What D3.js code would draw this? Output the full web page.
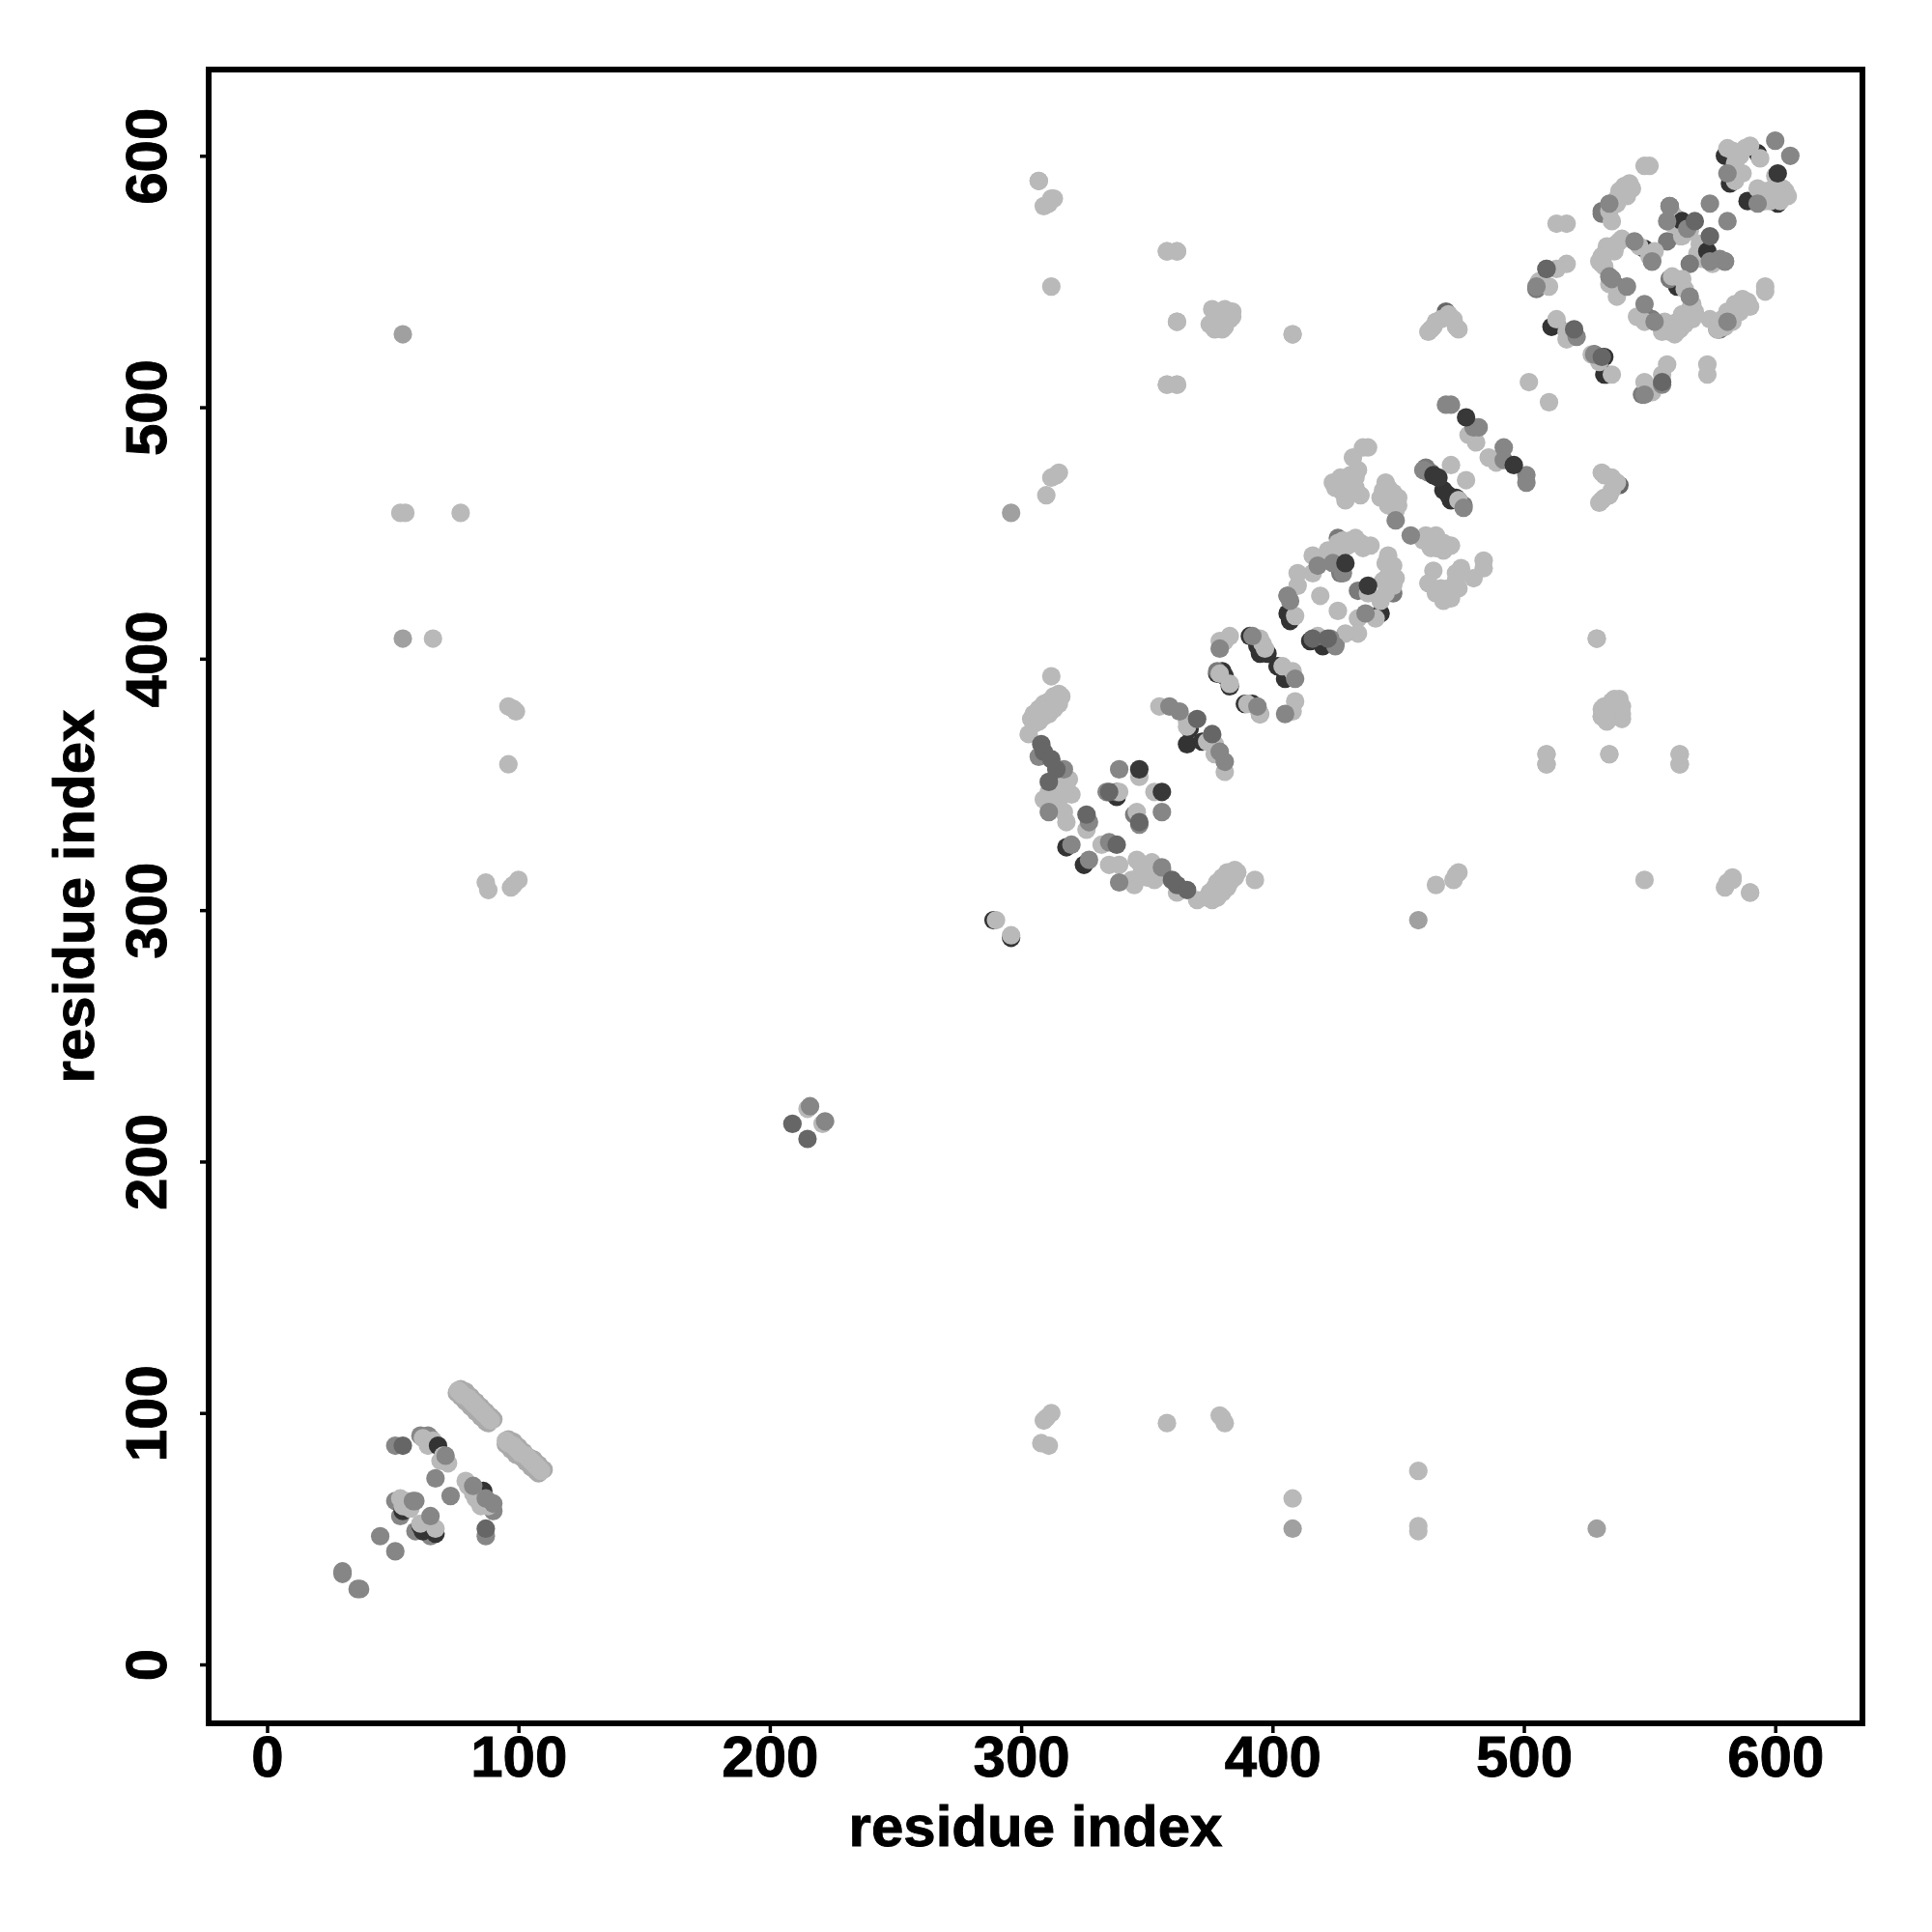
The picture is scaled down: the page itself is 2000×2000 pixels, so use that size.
<!DOCTYPE html>
<html><head><meta charset="utf-8">
<script src="https://cdn.jsdelivr.net/npm/d3@7/dist/d3.min.js"></script>
<style>html,body{margin:0;padding:0;background:#fff}</style></head>
<body><div id="chart"></div>
<script>
const tickValues=[0,100,200,300,400,500,600];
const axisTitle="residue index";
const shades={darkUnder:"#333333",midUnder:"#7a7a7a",light:"#b9b9b9",lightBack:"#aaaaaa",paleMid:"#a0a0a0",mid:"#868686",darkMid:"#666666",darkTop:"#383838"};

// contacts observed on one side of the diagonal; the map is symmetric
const mirroredLight=[[53,458],[55,458],[77,458],[66,408],[96,381],[98,380],[99,379],[96,358],[87,311],[88,308],[97,309],[100,312],[98,310],[307,590],[309,580],[311,581],[312,583],[313,583],[312,548],[358,562],[362,562],[362,534],[358,509],[362,509],[376,539],[378,537],[380,533],[383,535],[377,531],[380,531],[384,538],[379,535],[381,532],[382,537],[378,533],[375,533],[381,539],[384,536],[408,529],[310,465],[312,472],[314,473],[315,474],[463,531],[464,532],[465,534],[467,535],[470,537],[473,532],[474,531],[472,535],[462,530],[529,408],[509,362],[534,362],[562,362],[509,358],[562,358],[590,307]];
const mirroredPale=[[54,529],[54,408],[296,458]];
const mirroredDarkMid=[[469,538]];

const baseMid=[[36,30],[30,36],[59,53],[65,51],[51,65],[53,59],[61,91],[64,91],[65,90],[81,71],[84,68],[90,61],[307,361]];
const baseLight=[[62,90],[64,87],[66,89],[79,73],[82,70],[84,68],[53,66],[55,65],[88,65],[215,221],[221,215],[347,353],[353,347],[559,577],[561,575],[563,572],[562,568],[564,571],[559,573],[566,570],[569,561],[571,559],[575,557],[573,560],[570,565]];
const darkUnder=[[78,106],[81,104],[87,98],[97,87],[106,80],[104,81],
[68,87],[86,69],[54,61],[55,62],[61,55],[62,53],[67,52],[289,296],[296,289],
[318,325],[325,318],[338,345],[352,316],[366,366],[372,367],[367,372],[378,394],[380,395],[391,409],[395,402],[402,397],[405,392],[381,393],[383,389],[389,382],[392,382],
[394,405],[398,402],[404,396],[415,407],[406,418],[407,415],[420,405],[443,418],[470,465],[471,463],[468,467],[473,464],
[511,532],[528,521],[532,513],[548,537],[561,548],[548,563],[573,562],[563,574],[537,548],[580,600],[582,589],[589,582],[593,601],[601,581],[533,513],[513,533],[532,520]];
const midUnder=[[338,347],[356,316],[345,338],[378,395],[395,378],[406,425],[425,406],[434,427],[427,434],[448,426],[426,448],[461,476],[463,474],[476,461],[474,463],[531,578],[531,577],[578,531],[577,531],[505,547],[547,505],[551,558],[558,551],[535,551],[551,535],[558,580],[580,558],[566,557],[557,566]];
const lightsBack=[[77,109.5],[79,108.5],[81,106.5],[83,104.5],[85,102.5],[87,100.5],[89,98.5],[90,97.5],[75.5,108],[77,106.5],[79,104.5],[81,102.5],[83,100.5],[85,98.5],[87,96.5],[88,96],
[96,89.5],[98,88.5],[100,86.5],[102,84.5],[104,82.5],[106,81.5],[108,79.5],[110,77.5],[95,87.5],[97,85.5],[99,83.5],[101,82.5],[103,80.5],[105,78.5],[107,77],[108,76]];
const lights=[[70,83],[72,80],[69,81],[83,66],[56,63],[54,63],[57,62],[61,56],[67,54],[80,71],[82,68],[84,65],[85,63],[88,63],[290,296],[296,290],
[76,109],[77,108],[78,107],[80,106],[81,105],[82,104],[83,103],[84,102],[85,101],[86,100],[87,99],[88,98],[89,97],
[95,89],[96,88],[98,87],[99,86],[100,85],[101,84],[103,83],[104,82],[105,81],[106,80],[107,79],[108,78],[109,77],
[312,393],[303,370],[304,376],[306,377],[308,379],[310,380],[312,381],[313,383],[315,384],[314,383],
[305,378],[307,380],[309,382],[311,383],[313,385],[315,386],[316,385],[305,374],[307,375],[309,377],[311,378],[313,380],[315,382],
[378,305],[380,307],[382,309],[383,311],[385,313],[386,315],[385,316],[374,305],[375,307],[377,309],[378,311],[380,313],[382,315],
[309,344],[311,347],[318,348],[318,351],[315,349],[312,348],[315,344],[313,350],[320,346],[319,352],[316,347],[344,312],[348,315],[350,313],[346,320],[352,319],
[317,339],[318,335],[326,332],[332,326],[335,318],[339,318],[345,310],[347,313],[347,319],[350,317],[353,312],[362,307],[370,304],[376,304],[377,306],[378,308],[380,310],[381,312],[382,314],[384,315],[375,305],[376,307],[393,312],[339,347],[346,339],[355,381],[366,375],[366,373],[374,367],[377,366],[377,362],[381,355],
[379,407],[381,407],[383,409],[395,408],[397,404],[396,406],[404,397],[408,395],[409,383],[408,379],[379,394],[383,390],[395,378],[390,382],
[409,417],[410,434],[416,434],[410,429],[416,441],[419,440],[422,443],[428,447],[426,446],[431,447],[435,446],[439,445],[430,445],[433,448],[436,444],[425,443],[419,425],[426,419],[438,426],[445,438],[447,435],[448,429],[444,431],[443,423],[449,432],[448,437],[446,433],[445,426],[446,441],[441,416],[434,416],[434,410],[429,410],[418,409],
[438,484],[436,484],[432,480],[434,475],[431,473],[427,472],[424,470],[425,468],[429,463],[435,465],[433,472],[427,469],[430,470],[433,468],[428,466],
[445,470],[444,467],[446,465],[448,463],[450,461],[446,468],[448,466],[450,464],[443,464],[446,461],[449,459],[461,449],[463,447],[465,444],[468,443],[471,445],[460,447],[463,444],[466,446],[468,446],[465,449],[462,446],
[484,439],[484,436],[480,432],[473,434],[473,431],[472,427],[470,424],[468,425],[465,426],[464,435],[462,430],[467,428],[470,428],[474,428],[468,423],[471,424],[475,436],[471,477],[477,471],[474,463],[478,489],[481,486],[486,480],[489,478],
[588,603],[583,602],[594,599],[600,592],[587,593],[584,590],[593,587],[604,586],[602,582],[598,582],[600,585],[600,588],[590,604],[586,600],[584,597],[581,603],[597,586],[596,582],[605,584],[603,587],[601,586],
[563,568],[548,596],[550,596],[542,589],[539,585],[537,583],[535,580],[535,574],[540,588],[538,586],[536,581],[534,578],[543,587],[541,584],[537,581],
[538,566],[535,564],[532,561],[531,557],[537,565],[533,564],[531,560],[534,562],[536,562],[539,567],[530,558],[532,556],[552,562],[550,560],[546,564],[537,544],[534,549],[559,552],[563,551],[564,547],[545,536],[548,534],[558,532],[561,534],[565,536],[566,539],[556,534],[555,532],[563,537],[558,530],[562,531],[566,535],[567,541],[555,530],[560,529],[564,533],[568,538],[567,535],
[596,548],[596,546],[589,542],[586,540],[582,537],[577,531],[574,535],[579,535],[587,543],[584,541],[581,538],[578,534],[590,540],[586,538],[583,534],[580,532],[513,535],[517,530],[517,527],[527,521],[535,513],[530,518],[517,557],[513,555],[510,548],[506,550],[513,573],[517,573],[557,517],[555,513],[548,510],[551,506],[573,517],[573,513],[502,510],[510,502],
[531,377],[533,378],[535,379],[538,378],[537,383],[539,378]];
const midTop=[[37,30],[30,37],[51,45],[45,51],[87,51],[65,59],[58,65],[59,65],[73,67],[67,74],[51,87],[71,83],[82,71],[87,66],[90,64],[216,222],[222,216],
[317,356],[311,339],[327,335],[320,326],[335,327],[327,320],[339,311],[356,317],[339,356],[334,347],[356,339],[347,334],[359,381],[363,379],[379,363],[381,359],
[409,392],[405,378],[379,404],[392,409],[394,381],
[406,425],[407,423],[418,437],[424,438],[428,434],[437,418],[425,405],[423,408],
[449,455],[455,449],[460,475],[462,474],[476,460],[469,501],[471,501],[480,492],[482,492],[492,484],[492,479],[501,473],[501,470],
[600,606],[606,600],[574,581],[581,574],[558,580],[557,574],[565,571],[580,558],[578,559],[574,558],[544,566],[551,558],[535,551],[566,544],[548,541],[552,534],[541,548],[534,552],[521,528],[528,521],[581,593],[593,581],[581,534],[534,581],[548,505],[505,548],[509,555],[555,509]];
const darkMidTop=[[54,87],[87,54],[209,215],[215,209],[308,366],[309,363],[312,360],[314,356],[311,351],[326,338],[338,326],[360,312],[362,310],[366,308],[347,335],[335,347],[370,376],[376,370],[416,408],[422,408],[568,574],[574,568],[520,531],[531,520],[509,555],[555,510]];
const darkTop=[[347,356],[356,347],[429,438],[438,429],[464,473],[466,472],[477,496],[496,477],[601,593]];

const layers=[
 {pts:baseMid,fill:shades.mid},
 {pts:baseLight,fill:shades.light},
 {pts:darkUnder,fill:shades.darkUnder},
 {pts:midUnder,fill:shades.midUnder},
 {pts:mirroredPale,fill:shades.paleMid,mirror:true},
 {pts:mirroredDarkMid,fill:shades.darkMid,mirror:true},
 {pts:lightsBack,fill:shades.lightBack},
 {pts:lights,fill:shades.light},
 {pts:mirroredLight,fill:shades.light,mirror:true},
 {pts:midTop,fill:shades.mid},
 {pts:darkMidTop,fill:shades.darkMid},
 {pts:darkTop,fill:shades.darkTop}
];

const W=2000,H=2000,L=216,R=1928,T=72,B=1784;
const x=d3.scaleLinear().domain([-23.25,634.7]).range([L,R]);
const y=d3.scaleLinear().domain([-23.43,634.3]).range([B,T]);
const svg=d3.select("#chart").append("svg").attr("width",W).attr("height",H).style("display","block");
const font="'Liberation Sans',Arial,sans-serif";
svg.append("rect").attr("width",W).attr("height",H).attr("fill","#fff");

const marks=svg.append("g");
layers.forEach(l=>{
  const all=l.mirror?l.pts.concat(l.pts.map(d=>[d[1],d[0]])):l.pts;
  marks.append("g").selectAll("circle").data(all).join("circle")
    .attr("cx",d=>x(d[0])).attr("cy",d=>y(d[1])).attr("r",9.6).attr("fill",l.fill);
});

const ax=svg.append("g").attr("transform",`translate(0,${B})`)
  .call(d3.axisBottom(x).tickValues(tickValues).tickFormat(d3.format("d")).tickSize(10).tickSizeOuter(0));
const ay=svg.append("g").attr("transform",`translate(${L},0)`)
  .call(d3.axisLeft(y).tickValues(tickValues).tickFormat(d3.format("d")).tickSize(9).tickSizeOuter(0));
[ax,ay].forEach(g=>{
  g.select(".domain").remove();
  g.selectAll("line").attr("stroke","#000").attr("stroke-width",3.5);
  g.selectAll("text").attr("fill","#000").attr("stroke","#000").attr("stroke-width",0.9)
    .style("font-family",font).style("font-weight","bold").style("font-size","60px");
});
ax.selectAll("text").attr("y",0).attr("dy",0).attr("transform","translate(0,54.5)");
ay.selectAll("text").attr("x",0).attr("dy",0).style("text-anchor","middle")
  .attr("transform","translate(-44.5,0) rotate(-90)");

svg.append("rect").attr("x",L).attr("y",T).attr("width",R-L).attr("height",B-T)
  .attr("fill","none").attr("stroke","#000").attr("stroke-width",6);

[svg.append("text").attr("x",(L+R)/2).attr("y",1911),
 svg.append("text").attr("transform",`translate(97,928) rotate(-90)`)].forEach(t=>{
  t.attr("text-anchor","middle").attr("stroke","#000").attr("stroke-width",0.9)
   .style("font-family",font).style("font-weight","bold").style("font-size","60px").text(axisTitle);
});
</script></body></html>
